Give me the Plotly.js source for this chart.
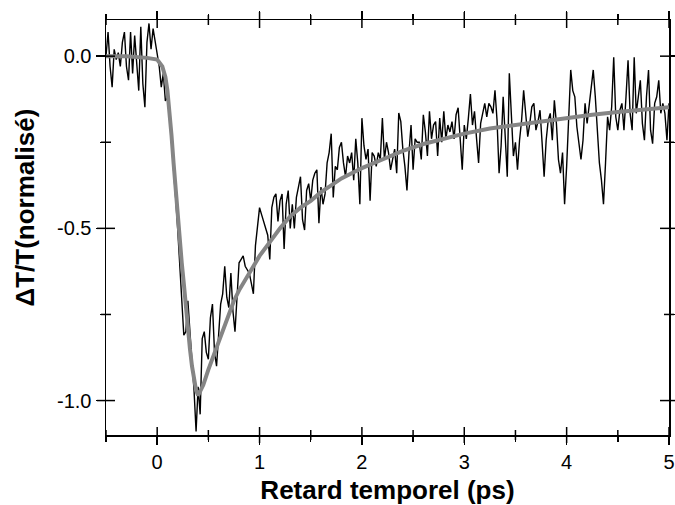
<!DOCTYPE html>
<html>
<head>
<meta charset="utf-8">
<script src="https://cdn.plot.ly/plotly-3.0.1.min.js"></script>
<style>html,body{margin:0;padding:0;background:#fff;}#chart{width:675px;height:505px;}</style>
</head>
<body>
<div id="chart"></div>
<script>
// Measured signal, sampled every 0.02 ps starting at -0.5 ps
const delayStart = -0.5;
const delayStep = 0.02;
const signal = [
  // -0.50 .. -0.02
  0.00, 0.07, -0.03, -0.09, 0.02, -0.01, 0.01, -0.03, 0.04, 0.07, -0.03, -0.07, 0.07, -0.05, 0.06, -0.03, -0.10, 0.085, -0.08, -0.148, 0.04, 0.095, 0.02, 0.08, 0.04,
  // 0.00 .. 0.48
  0.00, -0.03, -0.09, -0.05, -0.13, -0.12, -0.17, -0.25, -0.31, -0.41, -0.50, -0.60, -0.72, -0.81, -0.80, -0.71, -0.80, -0.88, -0.97, -1.09, -0.96, -1.04, -0.82, -0.80, -0.86,
  // 0.50 .. 0.98
  -0.88, -0.76, -0.72, -0.86, -0.90, -0.82, -0.72, -0.69, -0.61, -0.70, -0.73, -0.63, -0.74, -0.80, -0.68, -0.60, -0.59, -0.58, -0.61, -0.62, -0.63, -0.66, -0.69, -0.55, -0.50,
  // 1.00 .. 1.48
  -0.44, -0.46, -0.48, -0.50, -0.52, -0.59, -0.44, -0.41, -0.40, -0.48, -0.42, -0.40, -0.56, -0.43, -0.39, -0.50, -0.43, -0.50, -0.41, -0.38, -0.35, -0.475, -0.505, -0.39, -0.37,
  // 1.50 .. 1.98
  -0.42, -0.36, -0.34, -0.33, -0.485, -0.38, -0.43, -0.40, -0.31, -0.28, -0.225, -0.41, -0.32, -0.33, -0.265, -0.25, -0.31, -0.35, -0.29, -0.31, -0.28, -0.36, -0.24, -0.31, -0.43,
  // 2.00 .. 2.48
  -0.18, -0.26, -0.30, -0.27, -0.42, -0.28, -0.29, -0.32, -0.28, -0.30, -0.18, -0.30, -0.25, -0.28, -0.33, -0.30, -0.27, -0.34, -0.165, -0.19, -0.27, -0.32, -0.39, -0.28, -0.20,
  // 2.50 .. 2.98
  -0.33, -0.24, -0.25, -0.25, -0.30, -0.17, -0.22, -0.29, -0.16, -0.24, -0.20, -0.19, -0.29, -0.18, -0.25, -0.16, -0.24, -0.20, -0.22, -0.19, -0.24, -0.17, -0.15, -0.23, -0.33,
  // 3.00 .. 3.48
  -0.20, -0.24, -0.18, -0.11, -0.20, -0.16, -0.24, -0.31, -0.195, -0.16, -0.137, -0.176, -0.137, -0.147, -0.166, -0.099, -0.186, -0.34, -0.26, -0.118, -0.25, -0.35, -0.05, -0.195, -0.29,
  // 3.50 .. 3.98
  -0.25, -0.33, -0.244, -0.186, -0.099, -0.17, -0.234, -0.195, -0.147, -0.137, -0.215, -0.19, -0.157, -0.25, -0.35, -0.244, -0.186, -0.166, -0.244, -0.128, -0.195, -0.30, -0.34, -0.28, -0.43,
  // 4.00 .. 4.48
  -0.32, -0.166, -0.04, -0.10, -0.118, -0.205, -0.263, -0.30, -0.244, -0.137, -0.195, -0.14, -0.099, -0.04, -0.118, -0.215, -0.31, -0.36, -0.43, -0.31, -0.176, -0.215, -0.147, -0.003, -0.176,
  // 4.50 .. 4.98
  -0.215, -0.157, -0.137, -0.215, -0.118, -0.012, -0.166, -0.215, -0.003, -0.166, -0.118, -0.07, -0.195, -0.244, -0.118, -0.04, -0.215, -0.254, -0.137, -0.118, -0.07, -0.166, -0.137, -0.166, -0.244,
  // 5.00
  -0.137
];

// Fit curve
const fitX = [-0.5, -0.3, -0.1, 0.0, 0.05, 0.08, 0.10, 0.12, 0.14, 0.16, 0.18, 0.20, 0.22, 0.24, 0.26, 0.28, 0.30, 0.32, 0.34, 0.36, 0.38, 0.40, 0.42, 0.45, 0.50, 0.55, 0.60, 0.65, 0.70, 0.75, 0.80, 0.90, 1.00, 1.10, 1.20, 1.30, 1.40, 1.50, 1.60, 1.70, 1.80, 1.90, 2.00, 2.20, 2.40, 2.60, 2.80, 3.00, 3.25, 3.50, 3.75, 4.00, 4.25, 4.50, 4.75, 5.00];
const fitY = [0.0, 0.0, -0.005, -0.01, -0.03, -0.06, -0.10, -0.16, -0.23, -0.31, -0.39, -0.46, -0.53, -0.60, -0.66, -0.73, -0.79, -0.85, -0.90, -0.94, -0.97, -0.985, -0.975, -0.955, -0.91, -0.87, -0.83, -0.785, -0.745, -0.71, -0.68, -0.63, -0.58, -0.54, -0.50, -0.465, -0.44, -0.42, -0.395, -0.375, -0.355, -0.34, -0.325, -0.30, -0.275, -0.255, -0.24, -0.225, -0.21, -0.20, -0.19, -0.178, -0.17, -0.162, -0.155, -0.148];

// Ticks and labels
const xTickVals = [0, 1, 2, 3, 4, 5];
const xTickText = ["0", "1", "2", "3", "4", "5"];
const xMinorVals = [-0.5, 0.5, 1.5, 2.5, 3.5, 4.5];
const yTickVals = [0, -0.5, -1.0];
const yTickText = ["0.0", "-0.5", "-1.0"];
const yMinorVals = [-0.25, -0.75];
const xTitle = "Retard temporel (ps)";
const yTitle = "ΔT/T(normalisé)";

const delays = signal.map((v, i) => +(delayStart + i * delayStep).toFixed(2));

const FONT = "Liberation Sans, Arial, sans-serif";
const xRange = [-0.5, 5.0];
const yRange = [-1.1, 0.105];

const traces = [
  { x: delays, y: signal, type: 'scatter', mode: 'lines', line: { color: '#000000', width: 1.4 }, hoverinfo: 'skip' },
  { x: fitX, y: fitY, type: 'scatter', mode: 'lines', line: { color: '#858585', width: 4 }, hoverinfo: 'skip' }
];

// Crossing ticks (half inside, half outside) on all four frame sides, placed at the tick values
const tickLine = { color: '#000', width: 1.5 };
const shapes = [];
function addXTicks(vals, half) {
  vals.forEach(v => [0, 1].forEach(side => shapes.push({
    type: 'line', xref: 'x', yref: 'paper', ysizemode: 'pixel', yanchor: side,
    x0: v, x1: v, y0: -half, y1: half, line: tickLine, layer: 'above'
  })));
}
function addYTicks(vals, half) {
  vals.forEach(v => [0, 1].forEach(side => shapes.push({
    type: 'line', xref: 'paper', yref: 'y', xsizemode: 'pixel', xanchor: side,
    x0: -half, x1: half, y0: v, y1: v, line: tickLine, layer: 'above'
  })));
}
addXTicks(xTickVals, 8);
addXTicks(xMinorVals, 5);
addYTicks(yTickVals, 9);
addYTicks(yMinorVals, 5);

const layout = {
  width: 675, height: 505,
  margin: { l: 106, r: 6, t: 20, b: 70 },
  paper_bgcolor: '#fff', plot_bgcolor: '#fff',
  showlegend: false,
  font: { family: FONT, color: '#000', size: 20 },
  xaxis: {
    range: xRange, tickvals: xTickVals, ticktext: xTickText,
    showgrid: false, zeroline: false, tickcolor: '#000', tickwidth: 1.5,
    ticks: 'outside', ticklen: 8, mirror: 'ticks', showline: true, linewidth: 1.5, linecolor: '#000',
    tickfont: { family: FONT, size: 20, color: '#000' },
    minor: { tickvals: xMinorVals, ticks: 'outside', ticklen: 5, tickwidth: 1.5, tickcolor: '#000', showgrid: false },
    title: { text: xTitle, font: { family: FONT, size: 26, color: '#000', weight: 'bold' }, standoff: 10 }
  },
  yaxis: {
    range: yRange, tickvals: yTickVals, ticktext: yTickText,
    showgrid: false, zeroline: false, tickcolor: '#000', tickwidth: 1.5,
    ticks: 'outside', ticklen: 9, mirror: 'ticks', showline: true, linewidth: 1.5, linecolor: '#000',
    tickfont: { family: FONT, size: 20, color: '#000' },
    minor: { tickvals: yMinorVals, ticks: 'outside', ticklen: 5, tickwidth: 1.5, tickcolor: '#000', showgrid: false }
  },
  shapes: shapes,
  annotations: [{
    text: yTitle, xref: 'paper', yref: 'paper', x: -0.144, y: 0.548,
    xanchor: 'center', yanchor: 'middle', textangle: -90, showarrow: false,
    font: { family: FONT, size: 26, color: '#000', weight: 'bold' }
  }]
};

Plotly.newPlot('chart', traces, layout, { displayModeBar: false, staticPlot: true });
</script>
</body>
</html>
